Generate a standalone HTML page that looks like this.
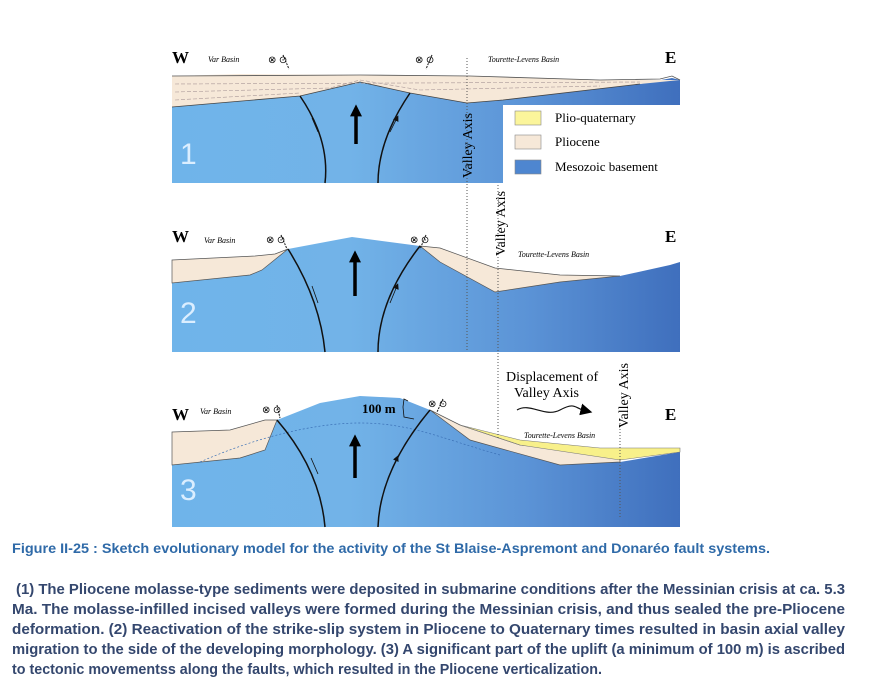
<!DOCTYPE html>
<html><head><meta charset="utf-8"><style>
body{margin:0;background:#fff;}
svg{display:block}
.s{font-family:"Liberation Serif",serif}
.c{font-family:"Liberation Sans",sans-serif;font-weight:bold}
</style></head><body>
<svg width="872" height="693" viewBox="0 0 872 693" xmlns="http://www.w3.org/2000/svg">
<defs>
<linearGradient id="g" x1="0" x2="1" y1="0" y2="0">
<stop offset="0" stop-color="#6fb4ea"/><stop offset="0.35" stop-color="#72b3e8"/><stop offset="0.7" stop-color="#5b93d6"/><stop offset="1" stop-color="#3f6fbd"/></linearGradient>
<marker id="ah" viewBox="0 0 10 10" refX="5" refY="5" markerWidth="6" markerHeight="6" markerUnits="userSpaceOnUse" orient="auto"><path d="M0,0L10,5L0,10z" fill="#111"/></marker>
<marker id="ab" viewBox="0 0 10 10" refX="2" refY="5" markerWidth="12" markerHeight="12" markerUnits="userSpaceOnUse" orient="auto"><path d="M0,0L10,5L0,10z" fill="#000"/></marker>
</defs>
<!-- PANEL 1 -->
<path d="M172,107 L300,96 L360,82 L410,93 L467,103 L503,100 L640,84 L672,78 L680,80 L680,110 L503,110 L503,183 L172,183Z" fill="url(#g)"/>
<path d="M172,76 L240,74 L360,75 L470,76 L600,80 L680,80 L640,84 L503,100 L467,103 L410,93 L360,82 L300,96 L172,107Z" fill="#f6e8d8"/>
<path d="M172,76 L360,75 L470,76 L600,80 L660,79 L672,76 L680,80" fill="none" stroke="#555" stroke-width="0.8"/>
<path d="M172,107 L300,96 L360,82 L410,93 L467,103 L503,100 L640,84" fill="none" stroke="#444" stroke-width="0.8"/>
<g stroke="#a99" stroke-dasharray="4,2" stroke-width="0.6" fill="none"><path d="M175,84 L640,82"/><path d="M175,92 L330,88 L360,80 L420,90 L600,86"/><path d="M175,100 L300,93"/></g>
<rect x="503" y="105" width="177" height="80" fill="#fff"/>
<path d="M300,96 Q330,140 325,183 M410,93 Q378,140 378,183" fill="none" stroke="#111" stroke-width="1.5"/>
<path d="M318,132 L312,118 M390,132 L397,118" stroke="#111" stroke-width="0.8" marker-end="url(#ah)"/>
<path d="M356,144 L356,114" stroke="#000" stroke-width="3.5" marker-end="url(#ab)"/>
<text x="180" y="164" font-family="Liberation Sans" font-size="30" fill="#dbeeff">1</text>
<rect x="515" y="111" width="26" height="14" fill="#fbf59b" stroke="#888" stroke-width="0.6"/>
<rect x="515" y="135" width="26" height="14" fill="#f6e8d8" stroke="#888" stroke-width="0.6"/>
<rect x="515" y="160" width="26" height="14" fill="#4e86d0" stroke="#888" stroke-width="0.6"/>
<text class="s" x="555" y="122" font-size="13">Plio-quaternary</text>
<text class="s" x="555" y="146" font-size="13">Pliocene</text>
<text class="s" x="555" y="171" font-size="13">Mesozoic basement</text>
<!-- PANEL 2 -->
<path d="M172,283 L250,275 L288,249 L352,237 L420,246 L495,292 L560,282 L620,276 L670,265 L680,262 L680,352 L172,352Z" fill="url(#g)"/>
<path d="M172,260 L255,256 L275,254 L288,249 L262,270 L250,275 L172,283Z" fill="#f6e8d8" stroke="#555" stroke-width="0.7"/>
<path d="M420,246 L440,248 L495,268 L560,275 L620,276 L560,282 L495,292 L440,262Z" fill="#f6e8d8" stroke="#555" stroke-width="0.7"/>
<path d="M288,249 Q320,300 325,352 M420,246 Q378,300 378,352" fill="none" stroke="#111" stroke-width="1.5"/>
<path d="M318,303 L312,286 M390,303 L397,286" stroke="#111" stroke-width="0.8" marker-end="url(#ah)"/>
<path d="M355,296 L355,260" stroke="#000" stroke-width="3.5" marker-end="url(#ab)"/>
<text x="180" y="323" font-family="Liberation Sans" font-size="30" fill="#dbeeff">2</text>
<!-- PANEL 3 -->
<path d="M172,465 L260,450 L277,420 L320,403 L360,396 L400,398 L430,410 L470,440 L560,465 L620,462 L680,452 L680,527 L172,527Z" fill="url(#g)"/>
<path d="M172,432 L230,430 L265,420 L277,420 L265,450 L240,458 L172,465Z" fill="#f6e8d8" stroke="#555" stroke-width="0.7"/>
<path d="M430,410 L460,425 L520,445 L620,455 L620,462 L560,465 L470,440Z" fill="#f6e8d8" stroke="#555" stroke-width="0.7"/>
<path d="M460,425 L520,440 L600,448 L680,448 L680,452 L620,460 L520,445Z" fill="#f8f08a" stroke="#777" stroke-width="0.6"/>
<path d="M200,462 C250,440 310,423 360,423 C410,423 440,438 500,455" fill="none" stroke="#3a6fb5" stroke-dasharray="2,2" stroke-width="0.7"/>
<path d="M277,420 Q320,470 325,527 M430,410 Q380,470 378,527" fill="none" stroke="#111" stroke-width="1.5"/>
<path d="M318,474 L311,458 M390,474 L397,458" stroke="#111" stroke-width="0.8" marker-end="url(#ah)"/>
<path d="M355,478 L355,444" stroke="#000" stroke-width="3.5" marker-end="url(#ab)"/>
<text x="180" y="500" font-family="Liberation Sans" font-size="30" fill="#dbeeff">3</text>
<path d="M403,407 L404,399 L408,401 M403,407 L404,417 L414,419" stroke="#111" stroke-width="0.8" fill="none"/>
<text class="s" x="362" y="413" font-size="13" font-weight="bold">100 m</text>
<!-- dotted axes -->
<g stroke="#555" stroke-dasharray="1,2" stroke-width="1"><path d="M467,58 L467,352"/><path d="M498,185 L498,440"/><path d="M620,420 L620,518"/></g>
<text class="s" font-size="14" transform="translate(472,178) rotate(-90)">Valley Axis</text>
<text class="s" font-size="14" transform="translate(505,256) rotate(-90)">Valley Axis</text>
<text class="s" font-size="14" transform="translate(628,428) rotate(-90)">Valley Axis</text>
<text class="s" x="506" y="381" font-size="14">Displacement of</text>
<text class="s" x="514" y="397" font-size="14">Valley Axis</text>
<path d="M517,410 C530,402 545,418 560,410 S575,408 583,410" fill="none" stroke="#111" stroke-width="1.2" marker-end="url(#ab)"/>
<!-- labels -->
<g class="s">
<text x="172" y="63" font-size="17" font-weight="bold">W</text><text x="665" y="63" font-size="17" font-weight="bold">E</text>
<text x="172" y="242" font-size="17" font-weight="bold">W</text><text x="665" y="242" font-size="17" font-weight="bold">E</text>
<text x="172" y="420" font-size="17" font-weight="bold">W</text><text x="665" y="420" font-size="17" font-weight="bold">E</text>
<g font-size="8" font-style="italic"><text x="208" y="62">Var Basin</text><text x="488" y="62">Tourette-Levens Basin</text>
<text x="204" y="243">Var Basin</text><text x="518" y="257">Tourette-Levens Basin</text>
<text x="200" y="414">Var Basin</text><text x="524" y="438">Tourette-Levens Basin</text></g>
<g font-size="10"><text x="268" y="63">⊗ ⊙</text><text x="415" y="63">⊗ ⊙</text><text x="266" y="243">⊗ ⊙</text><text x="410" y="243">⊗ ⊙</text><text x="262" y="413">⊗ ⊙</text><text x="428" y="407">⊗ ⊙</text></g>
</g>
<g stroke="#111" stroke-width="1" stroke-dasharray="2,1"><path d="M283,55 L289,69"/><path d="M432,55 L426,69"/><path d="M281,235 L287,249"/><path d="M426,235 L420,249"/><path d="M277,405 L280,418"/><path d="M443,399 L437,412"/></g>
<!-- caption -->
<text class="c" x="12" y="553" font-size="14" fill="#2f6aa8" textLength="758" lengthAdjust="spacingAndGlyphs">Figure II-25 : Sketch evolutionary model for the activity of the St Blaise-Aspremont and Donaréo fault systems.</text>
<g class="c" font-size="14.5" fill="#34476e">
<text x="16" y="594" textLength="829" lengthAdjust="spacingAndGlyphs">(1) The Pliocene molasse-type sediments were deposited in submarine conditions after the Messinian crisis at ca. 5.3</text>
<text x="12" y="614" textLength="833" lengthAdjust="spacingAndGlyphs">Ma. The molasse-infilled incised valleys were formed during the Messinian crisis, and thus sealed the pre-Pliocene</text>
<text x="12" y="634" textLength="833" lengthAdjust="spacingAndGlyphs">deformation. (2) Reactivation of the strike-slip system in Pliocene to Quaternary times resulted in basin axial valley</text>
<text x="12" y="654" textLength="833" lengthAdjust="spacingAndGlyphs">migration to the side of the developing morphology. (3) A significant part of the uplift (a minimum of 100 m) is ascribed</text>
<text x="12" y="674" textLength="590" lengthAdjust="spacingAndGlyphs">to tectonic movementss along the faults, which resulted in the Pliocene verticalization.</text>
</g>
</svg>
</body></html>
